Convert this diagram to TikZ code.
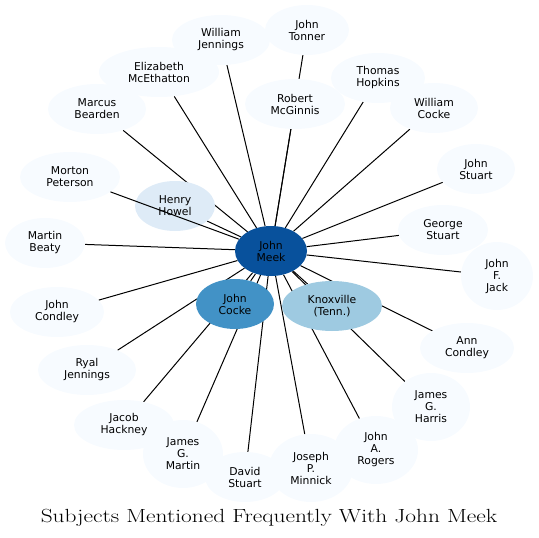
\documentclass[tikz,border=0pt]{standalone}
\usepackage{fontspec}
\newfontfamily\lbl{DejaVu Sans}
\usetikzlibrary{shapes.geometric}
\pgfdeclarelayer{bg}
\pgfsetlayers{bg,main}
\definecolor{pale}{HTML}{F7FBFF}
\definecolor{howel}{HTML}{DEEBF7}
\definecolor{cocke}{HTML}{4292C6}
\definecolor{knox}{HTML}{9ECAE1}
\definecolor{meek}{HTML}{08519C}
\begin{document}
\begin{tikzpicture}[x=1pt,y=-1pt,
  nd/.style={ellipse, fill=pale, inner sep=0pt, align=center, font=\lbl\fontsize{10.8}{12}\selectfont},
  tw/.style={nd, minimum width=#1, minimum height=50},
  th/.style={nd, minimum width=#1, minimum height=68},
  edge/.style={black, line width=1pt}]
\useasboundingbox (0,0) rectangle (539,538);
% nodes
\node[tw=98]  (wj)  at (221,40)  {William\\Jennings};
\node[tw=84]  (jt)  at (307,30)  {John\\Tonner};
\node[tw=120] (em)  at (159,72)  {Elizabeth\\McEthatton};
\node[tw=98]  (mb)  at (97,109)  {Marcus\\Bearden};
\node[tw=100] (mp)  at (70,177)  {Morton\\Peterson};
\node[tw=80, fill=howel] (hh) at (175,206) {Henry\\Howel};
\node[tw=80]  (mbe) at (45,243)  {Martin\\Beaty};
\node[tw=100] (rm)  at (295,104) {Robert\\McGinnis};
\node[tw=94]  (th)  at (378,78)  {Thomas\\Hopkins};
\node[tw=88]  (wc)  at (434,108) {William\\Cocke};
\node[tw=78]  (js)  at (476,169) {John\\Stuart};
\node[tw=90]  (gs)  at (443,230) {George\\Stuart};
\node[th=72]  (jfj) at (497,276) {John\\F.\\Jack};
\node[tw=94]  (jcd) at (57,312)  {John\\Condley};
\node[tw=98]  (rj)  at (87,370)  {Ryal\\Jennings};
\node[tw=100] (jh)  at (124,425) {Jacob\\Hackney};
\node[th=80]  (jgm) at (183,454) {James\\G.\\Martin};
\node[tw=80]  (ds)  at (245,477) {David\\Stuart};
\node[th=84]  (jpm) at (311,468) {Joseph\\P.\\Minnick};
\node[th=84]  (jar) at (376,450) {John\\A.\\Rogers};
\node[th=78]  (jgh) at (431,407) {James\\G.\\Harris};
\node[tw=94]  (ac)  at (467,348) {Ann\\Condley};
\node[tw=78, fill=cocke] (jc) at (235,304) {John\\Cocke};
\node[tw=100, fill=knox] (kx) at (332,306) {Knoxville\\(Tenn.)};
\node[tw=72, fill=meek] (jm) at (271,251) {John\\Meek};
% edges under the nodes
\begin{pgfonlayer}{bg}
\foreach \n in {wj,jt,em,mb,hh,mbe,rm,th,wc,js,gs,jfj,jcd,rj,jh,jgm,ds,jpm,jar,jgh,ac,jc,kx}
  \draw[edge] (jm) -- (\n);
\end{pgfonlayer}
% edge drawn over Henry Howel
\draw[edge] (jm) -- (mp);
% title
\node[font=\fontsize{19}{22}\selectfont] (title) at (269,518) {\scalebox{1.23}[1]{Subjects Mentioned Frequently With John Meek}};
\end{tikzpicture}
\end{document}
